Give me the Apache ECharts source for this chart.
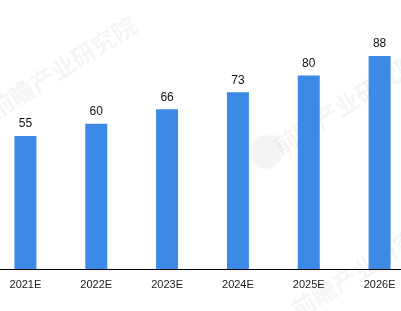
<!DOCTYPE html>
<html><head><meta charset="utf-8">
<script src="https://cdn.jsdelivr.net/npm/echarts@6/dist/echarts.min.js"></script>
<style>html,body{margin:0;padding:0;background:#fff}#c{width:401px;height:311px}</style>
</head><body><div id="c"></div>
<script>
var categories = ['2021E','2022E','2023E','2024E','2025E','2026E'];
var values = [55, 60, 66, 73, 80, 88];
var wmText = '前瞻产业研究院';
var chart = echarts.init(document.getElementById('c'), null, {renderer:'canvas'});
var rot = Math.PI/180*32;
function wm(x, y){
  return {type:'text', x:x, y:y, rotation:rot, z:-10, silent:true,
    style:{text:wmText, font:'bold 24px "Noto Sans CJK SC"', fill:'rgba(0,0,0,0.045)', verticalAlign:'bottom', align:'left'}};
}
chart.setOption({
  animation:false,
  grid:{left:-10, right:-14, top:27, bottom:42, outerBoundsMode:'none', containLabel:false},
  graphic:[
    wm(-2, 122),
    wm(282, 158),
    wm(300, 322),
    {type:'circle', shape:{cx:266, cy:152, r:17}, z:-10, silent:true, style:{fill:'rgba(0,0,0,0.04)'}}
  ],
  xAxis:{type:'category', data:categories,
    axisLine:{lineStyle:{color:'#000', width:1}},
    axisTick:{show:false},
    axisLabel:{color:'#1a1a1a', fontSize:11, fontFamily:'Liberation Sans', margin:10}},
  yAxis:{type:'value', min:0, max:100, show:false, splitLine:{show:false}},
  series:[{type:'bar', data:values, barWidth:22,
    itemStyle:{color:'#3c8ae6'},
    label:{show:true, position:'top', color:'#111', fontSize:12, fontFamily:'Liberation Sans', distance:6}}]
});
</script></body></html>
